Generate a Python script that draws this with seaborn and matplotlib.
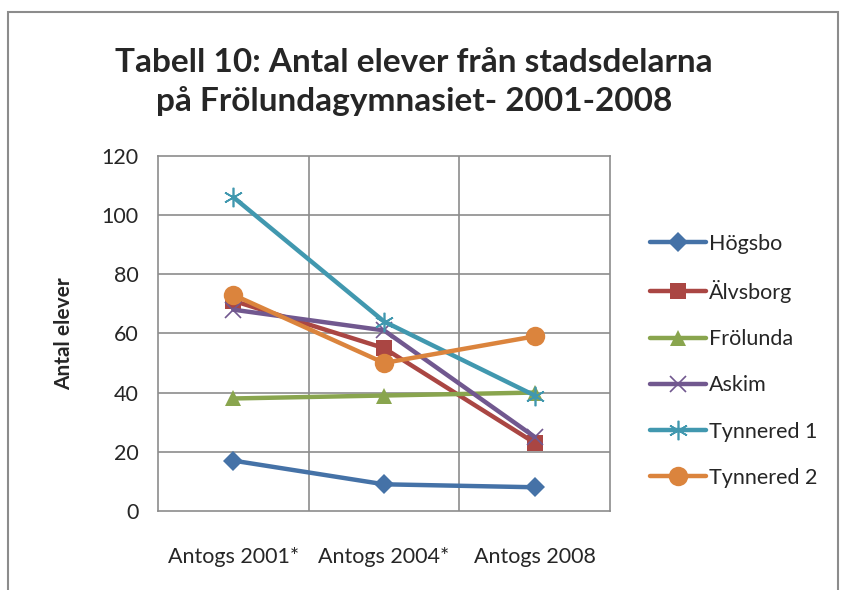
import pandas as pd
import numpy as np
import matplotlib
matplotlib.use('Agg')
import matplotlib.pyplot as plt
import seaborn as sns
from matplotlib.patches import Rectangle

# Data
categories = ['Antogs 2001*', 'Antogs 2004*', 'Antogs 2008']
hogsbo = [17, 9, 8]
alvsborg = [71, 55, 23]
frolunda = [38, 39, 40]
askim = [68, 61, 25]
tynnered1 = [106, 64, 39]
tynnered2 = [73, 50, 59]

series_names = ['Högsbo', 'Älvsborg', 'Frölunda', 'Askim', 'Tynnered 1', 'Tynnered 2']
series_values = [hogsbo, alvsborg, frolunda, askim, tynnered1, tynnered2]
colors = ['#4572A7', '#AA4643', '#89A54E', '#71588F', '#4198AF', '#DB843D']
markers = ['D', 's', '^', 'x', (6, 2, 0), 'o']
msizes = [10, 12, 12, 12, 14, 14]

rows = []
for name, vals in zip(series_names, series_values):
    for i, v in enumerate(vals):
        rows.append({'Kategori': i, 'Serie': name, 'Antal': v})
df = pd.DataFrame(rows)

sns.set_style('white')
plt.rcParams['font.family'] = ['Lato', 'DejaVu Sans']

fig = plt.figure(figsize=(8.45, 5.9), dpi=100)
ax = fig.add_axes([0.187, 0.134, 0.535, 0.602])

for name, col, mk, ms in zip(series_names, colors, markers, msizes):
    sub = df[df['Serie'] == name]
    line_mk = mk in ('x',) or isinstance(mk, tuple)
    sns.lineplot(data=sub, x='Kategori', y='Antal', ax=ax, color=col, linewidth=3.2,
                 marker=mk, markersize=ms, markeredgecolor=col,
                 markeredgewidth=1.2 if line_mk else 0, label=name)

ax.set_xlim(-0.5, 2.5)
ax.set_ylim(0, 120)
ax.set_yticks(range(0, 121, 20))
ax.set_xticks([0, 1, 2])
ax.set_xticklabels(categories, fontsize=15.5)
ax.tick_params(axis='x', length=0, pad=26)
ax.tick_params(axis='y', length=0, pad=14, labelsize=15.5)
ax.set_xlabel('')
ax.set_ylabel('Antal elever', fontsize=15, fontweight='bold', labelpad=20)

# gridlines
for y in range(20, 120, 20):
    ax.axhline(y, color='#8c8c8c', lw=1.2, zorder=0)
for x in [0.5, 1.5]:
    ax.axvline(x, color='#8c8c8c', lw=1.2, zorder=0)
for s in ax.spines.values():
    s.set_color('#8c8c8c')
    s.set_linewidth(1.2)

fig.suptitle('Tabell 10: Antal elever från stadsdelarna\npå Frölundagymnasiet- 2001-2008',
             fontsize=24, fontweight='bold', x=0.49, y=0.918, linespacing=1.35)

leg = ax.legend(loc='center left', bbox_to_anchor=(1.045, 0.423), frameon=False,
                fontsize=15.5, labelspacing=1.22, handlelength=2.6, handletextpad=0.15)

# chart border
fig.patches.append(Rectangle((0.009, -0.02), 0.983, 1.0, transform=fig.transFigure,
                             fill=False, edgecolor='#8c8c8c', lw=1.5))

fig.savefig('out.png', dpi=100)
